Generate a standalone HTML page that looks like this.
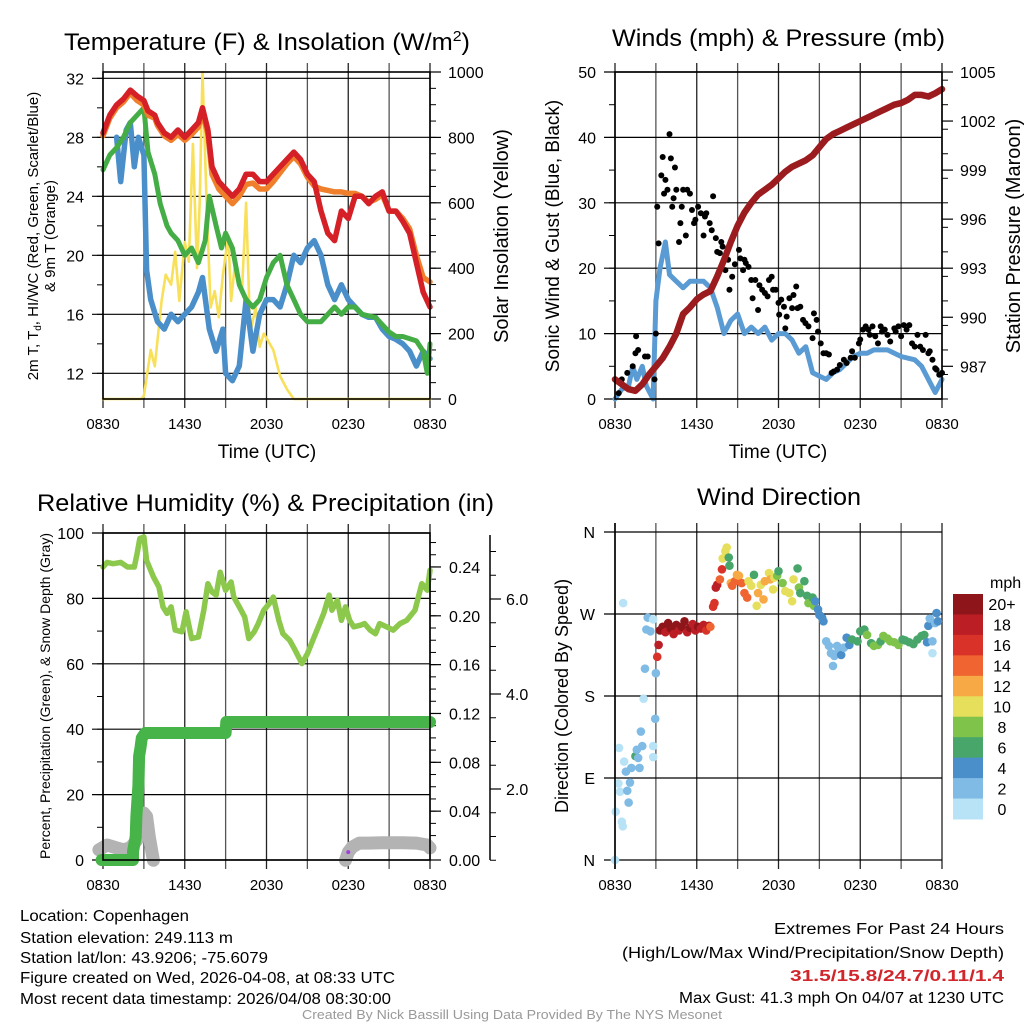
<!DOCTYPE html>
<html><head><meta charset="utf-8"><style>
html,body{margin:0;padding:0;background:#fff;}
svg{display:block;font-family:"Liberation Sans",Arial,sans-serif;}
</style></head><body>
<svg id="fig" width="1024" height="1024" viewBox="0 0 1024 1024" xmlns="http://www.w3.org/2000/svg">
<rect width="1024" height="1024" fill="#fff"/>
<g id="panels"></g>
<text x="64" y="50" font-size="24" textLength="406" lengthAdjust="spacingAndGlyphs">Temperature (F) &amp; Insolation (W/m<tspan dy="-9" font-size="15">2</tspan><tspan dy="9">)</tspan></text>
<text x="612" y="46" font-size="24" textLength="333" lengthAdjust="spacingAndGlyphs">Winds (mph) &amp; Pressure (mb)</text>
<text x="37" y="511" font-size="24" textLength="457" lengthAdjust="spacingAndGlyphs">Relative Humidity (%) &amp; Precipitation (in)</text>
<text x="697" y="505" font-size="24" textLength="164" lengthAdjust="spacingAndGlyphs">Wind Direction</text>
<g font-size="15.5">
<text x="20" y="921" textLength="169" lengthAdjust="spacingAndGlyphs">Location: Copenhagen</text>
<text x="20" y="943" textLength="213" lengthAdjust="spacingAndGlyphs">Station elevation: 249.113 m</text>
<text x="20" y="963" textLength="248" lengthAdjust="spacingAndGlyphs">Station lat/lon: 43.9206; -75.6079</text>
<text x="20" y="983" textLength="375" lengthAdjust="spacingAndGlyphs">Figure created on Wed, 2026-04-08, at 08:33 UTC</text>
<text x="20" y="1004" textLength="371" lengthAdjust="spacingAndGlyphs">Most recent data timestamp: 2026/04/08 08:30:00</text>
<text x="774" y="934" textLength="230" lengthAdjust="spacingAndGlyphs">Extremes For Past 24 Hours</text>
<text x="622" y="958" textLength="382" lengthAdjust="spacingAndGlyphs">(High/Low/Max Wind/Precipitation/Snow Depth)</text>
<text x="790" y="981" font-weight="bold" fill="#d0262c" textLength="214" lengthAdjust="spacingAndGlyphs">31.5/15.8/24.7/0.11/1.4</text>
<text x="679" y="1003" textLength="325" lengthAdjust="spacingAndGlyphs">Max Gust: 41.3 mph On 04/07 at 1230 UTC</text>
</g>
<text x="302" y="1019" font-size="13" fill="#999" textLength="420" lengthAdjust="spacingAndGlyphs">Created By Nick Bassill Using Data Provided By The NYS Mesonet</text>
</svg>
<script>
// ---------- data ----------
const xTickLabels = ["0830","1430","2030","0230","0830"];
const tempTicks = [12,16,20,24,28,32];
const insTicks = [0,200,400,600,800,1000];
const windTicks = [0,10,20,30,40,50];
const presTicks = [987,990,993,996,999,1002,1005];
const rhTicks = [0,20,40,60,80,100];
const precipTicks = ["0.00","0.04","0.08","0.12","0.16","0.20","0.24"];
const snowTicks = ["2.0","4.0","6.0"];
const dirLabels = ["N","W","S","E","N"];
const speedBinLabels = ["20+","18","16","14","12","10","8","6","4","2","0"];
const speedBinColors = ["#8e1519","#bb1e25","#d93229","#ef6430","#f7a946","#e5df5b","#7fc34b","#48a66b","#4a8fc9","#7fbbe4","#b8e3f7"];

const tempTimes = [0,0.5,1,1.5,2,2.5,3,3.3,3.8,4,4.5,5,5.5,6,6.5,7,7.3,7.7,8,8.5,9,9.5,10,10.5,11,11.5,12,12.5,13,13.5,14,14.5,15,15.5,16,16.5,17,17.5,18,18.5,19,19.5,20,20.5,21,21.5,22,22.5,23,23.5,24];
const tempRed = [28.3,29.5,30.2,30.6,31.2,30.8,30.5,29.8,29.5,29,28.3,28,28.5,28,28.5,29,30,28.5,26,25,24.5,24,24.5,25.5,25.5,25,25,25.5,26,26.5,27,26.5,25.5,25,23,21.5,21,23,22.5,24,24,23.5,24,24.3,23,23,22.3,21.5,19.5,17.5,16.5];
const tempOrange = [28.1,29.3,30,30.4,31,30.5,30.2,29.5,29.3,28.8,28.1,27.8,28.2,27.8,28.2,28.7,29.7,28.2,25.5,24.5,24,23.5,24,24.8,24.9,24.5,24.5,25,25.6,26.2,26.7,26.2,25.3,24.7,24.5,24.4,24.3,24.3,24.2,24.2,24,23.6,23.8,24.1,23,23,22.5,21.8,20,18.5,18.2];
const tdTimes = [0,0.5,1,1.5,2,2.5,3,3.3,3.8,4.2,4.7,5,5.5,6,6.5,7,7.5,7.8,8.3,8.7,9,9.5,10,10.5,11,11.5,12,12.5,13,13.5,14,14.5,15,15.5,16,16.5,17,17.5,18,18.5,19,20,20.5,21,21.5,22,23,23.5,23.8,24];
const tdGreen = [25.8,26.8,27.3,28,29,29.5,30,27,25.5,23.5,22,21.5,21,20,20.5,19.5,21,24,22,20.5,21.5,20.5,18,17,16.5,17,18.5,19.5,20,18,17,16,15.5,15.5,15.5,16,16.5,16,16.5,16.5,16,15.8,15.3,14.8,14.5,14.5,14.2,13.5,12,14];
const hiTimes = [1,1.3,1.7,2,2.3,2.6,3,3.2,3.5,4,4.5,5,5.5,6,6.5,7,7.3,7.8,8.3,8.8,9,9.5,10,10.5,11,11.5,12,12.5,13,13.5,14,14.5,15,15.5,16,16.5,17,17.5,18,18.5,19,19.5,20,20.5,21,21.5,22,22.5,23,23.5,24];
const hiBlue = [28,25,28.5,29,26,28,26.8,19,17,15.5,15,16,15.5,16,16.5,17.5,18.5,15,13.5,15,12,11.5,12.5,17,13.5,16,17,17,16.5,18,20,19.5,20.5,21,20,18,17,18,17,16.5,16,15.8,15.8,15,14.5,14.3,14,13.5,12.5,13.5,13];
const insTimes = [0,2.8,3,3.5,3.8,4.3,4.6,5,5.3,5.6,6,6.3,6.6,6.9,7.1,7.3,7.6,7.9,8.2,8.5,8.8,9.2,9.4,9.7,10.2,10.5,10.8,11.2,11.5,11.8,12.5,13,13.5,14,24];
const insValues = [0,0,10,150,100,300,380,350,450,300,480,420,780,400,600,1000,600,280,330,250,380,500,300,420,330,600,200,280,160,200,150,70,30,0,0];

const windTimes = [0,0.5,1,1.3,1.6,2,2.3,2.8,3,3.3,3.7,4,4.5,5,5.5,6,6.5,7,7.5,8,8.5,9,9.5,10,10.5,11,11.5,12,12.5,13,13.5,14,14.5,15,15.5,16,16.5,17,17.5,18,18.5,19,19.5,20,21,22,22.5,23,23.5,24];
const windValues = [0,1.5,2,5,3,5,2,0,15,20,24,19,18,17,18,18,18,17,14,10,12,13,10,11,10,11,9,10,10,9,7,8,4,3.5,3,4,4.5,5.5,6.5,7,7,7.5,7.5,7.5,6.5,6,5,3,1,3];
const gustTimes = [0.27,0.5,0.9,1.3,1.5,1.55,1.7,2.2,2.4,2.9,3.0,3.1,3.2,3.4,3.5,3.6,3.7,3.85,4.0,4.1,4.2,4.3,4.4,4.5,4.7,4.8,4.9,5.0,5.2,5.3,5.5,5.65,5.8,5.9,6.1,6.3,6.5,6.6,6.7,6.95,7.1,7.2,7.4,7.5,7.7,7.8,7.9,8.1,8.3,8.4,8.6,8.8,9.1,9.2,9.4,9.5,9.6,9.8,10.0,10.1,10.3,10.5,10.6,10.8,11.0,11.2,11.3,11.5,11.6,11.8,12.0,12.05,12.2,12.4,12.5,12.6,12.8,13.0,13.1,13.3,13.4,13.6,13.8,13.98,14.2,14.5,14.6,14.8,14.9,15.1,15.3,15.5,15.7,15.9,16.05,16.3,16.5,16.8,17.0,17.3,17.4,17.6,17.9,18.0,18.2,18.4,18.6,18.7,18.9,19.1,19.3,19.5,19.6,19.8,20.0,20.2,20.5,20.6,20.8,21.0,21.2,21.4,21.6,21.8,22.0,22.2,22.4,22.6,22.8,23.0,23.1,23.3,23.5,23.6,23.8,24.0];
const gustValues = [0.9,3,4,5,7,9.6,7.5,6.5,6.5,3,10,29.4,23.8,34.2,37,31.4,33.5,32,40.5,36.8,29.4,30.7,35.4,32,24,26.9,29.4,32,25,32,31.4,28.9,26.9,27.4,29.4,28.4,25,27.9,28.4,26.9,25.8,31,24.6,22.5,22.3,24,23.3,19.7,21.3,16.7,18.7,20.6,22.8,21.5,19.7,21.3,20.8,20.2,18.2,15.4,18.2,13.6,17.4,16.7,16.2,15.7,18.2,18.7,16.7,16.7,14.7,12.9,15.2,14.1,10.8,12.6,15.4,13.9,15.9,17.2,13.9,14.1,12.1,11.6,11.1,9.3,13.1,12.1,10.3,8.5,7,7,6.8,4,4.2,4.5,5.2,6,5.5,6.3,7.3,6.3,8.5,9.1,10.6,11.1,10.6,9.8,11.1,9.6,8.5,11.1,10.3,10.6,9.8,8.8,10.8,10.3,11.1,9.6,11.3,10.6,11.3,8.5,8,9.8,8,7.5,9.8,7,7.3,6,4.7,4.5,3.7,4];
const presTimes = [0,0.5,1,1.5,2,2.5,3,3.5,4,4.5,5,5.5,6,6.5,7,7.5,8,8.5,9,9.5,10,10.5,11,11.5,12,12.5,13,13.5,14,14.5,15,15.5,16,16.5,17,17.5,18,18.5,19,19.5,20,20.5,21,21.5,22,22.5,23,23.5,24];
const presValues = [986.2,985.9,985.6,985.5,985.9,986.5,987.0,987.5,988.2,989.0,990.2,990.6,991.1,991.4,991.6,992.5,993.5,994.6,995.6,996.4,997.0,997.5,997.8,998.1,998.5,998.9,999.2,999.4,999.6,999.9,1000.4,1000.9,1001.2,1001.4,1001.6,1001.8,1002.0,1002.2,1002.4,1002.6,1002.8,1003.0,1003.1,1003.3,1003.6,1003.6,1003.5,1003.7,1003.95];

const rhTimes = [0,0.3,0.75,1.3,1.8,2.3,2.5,2.7,3,3.2,3.7,4.1,4.4,4.7,5,5.3,5.8,6.1,6.5,7.0,7.4,7.7,8.0,8.3,8.6,9.0,9.4,9.6,10.0,10.4,10.7,11.1,11.4,11.8,12.2,12.5,12.9,13.2,13.7,14.1,14.6,15.0,15.3,15.8,16.2,16.6,16.8,17.2,17.5,17.8,18.1,18.4,18.9,19.2,19.6,20.0,20.3,20.8,21.3,21.8,22.3,22.9,23.4,23.8,24];
const rhValues = [89.6,91,90.6,91,89.6,89.6,93.7,98.3,98.8,91.6,86.6,83.5,77.4,75.4,77.4,70.3,69.8,75.9,67.7,68.2,76.4,84.5,82,81,88,82.5,85,80.4,77.4,74.3,67.7,69.8,72.3,76.4,78.4,80.4,73.3,69.2,67.2,64.2,60.1,63.1,66.2,71.3,75.4,81,76.4,79.4,73.3,77.4,73.3,71.3,71.8,72.3,70.3,69.2,72.3,71.3,70.3,72.3,73.3,76.4,84.5,82.5,88.6];
const precipTimes = [-0.1,2.2,2.2,2.4,2.45,2.6,2.65,2.75,2.85,3.1,9.0,9.05,24];
const precipValues = [0,0,0.007,0.019,0.036,0.061,0.085,0.092,0.1,0.104,0.104,0.113,0.113];
const snowTimes = [-0.3,0.3,1,1.5,2,2.5,2.8,3.0,3.2,3.4,3.6,3.7,null,17.8,18.0,18.3,18.8,19.5,20.5,22,23,23.8,24];
const snowValues = [0.72,0.82,0.76,0.72,0.76,0.93,1.35,1.49,1.42,0.99,0.65,0.5,null,0.5,0.67,0.78,0.86,0.86,0.87,0.87,0.86,0.82,0.76];
const snowFlagTime = [18];
const snowFlagValue = [0.67];

const dirTimes = [0,0.05,0.25,0.37,0.5,0.57,0.3,0.6,0.67,0.8,0.9,1.0,1.1,1.2,1.5,1.6,1.7,1.8,1.9,2.0,2.1,2.2,2.3,2.4,2.6,2.8,2.8,2.8,2.95,3.0,3.1,3.2,3.3,3.5,3.7,3.9,4.1,4.3,4.5,4.7,4.9,5.1,5.3,5.5,5.7,5.9,6.1,6.3,6.5,6.7,6.9,7.0,7.2,7.3,7.4,7.5,7.7,7.85,7.9,8.1,8.2,8.35,8.4,8.5,8.6,8.8,8.95,9.1,9.3,9.5,9.7,9.8,10.0,10.2,10.4,10.5,10.7,10.9,11.0,11.3,11.4,11.6,11.7,11.9,12.0,12.3,12.5,12.8,13.0,13.1,13.4,13.5,13.6,13.9,14.1,14.2,14.5,14.6,14.7,14.9,15.0,15.2,15.3,15.5,15.7,15.85,16.0,16.1,16.3,16.4,16.6,16.8,17.0,17.2,17.4,17.8,18.0,18.3,18.5,18.8,19.0,19.3,19.5,19.7,20.0,20.2,20.5,20.8,21.1,21.3,21.6,21.9,22.2,22.5,22.7,22.9,23.0,23.1,23.3,23.3,23.5,23.6,23.7];
const dirValues = [0,53,84,75,42,37,123,282,108,97,76,63,85,101,114,121,112,101,141,125,177,210,253,266,251,264,125,113,155,205,223,236,252,256,250,260,254,248,258,252,256,262,250,255,259,252,256,254,258,252,257,256,278,282,299,302,308,319,331,339,343,332,323,304,301,306,313,312,304,293,288,306,301,313,279,293,302,286,306,315,308,297,310,312,317,304,295,293,284,308,320,299,293,306,290,282,288,279,284,275,269,266,262,240,235,227,213,224,235,229,225,233,244,236,242,240,251,253,247,238,235,236,240,246,243,240,239,236,242,241,239,237,242,246,247,239,257,265,227,240,260,271,262];
const dirSpeeds = [0,1,1,1,1,1,1,1,1,2,2,3,2,2,6,3,3,2,2,2,1,2,3,3,2,1,1,1,2,2,16,18,20,20,18,20,20,18,20,18,20,20,18,20,18,18,20,18,18,16,18,14,16,16,18,18,14,16,10,10,10,6,6,12,14,14,12,12,14,14,14,10,10,6,10,12,10,12,12,10,12,10,10,8,6,8,10,10,10,10,6,8,6,6,6,8,6,8,4,4,4,4,4,2,2,2,2,2,2,2,4,2,4,4,6,6,6,6,8,6,8,8,6,8,8,8,8,8,6,6,6,6,6,6,6,4,4,2,1,2,2,4,4];

// ---------- helpers ----------
const NS = "http://www.w3.org/2000/svg";
const root = document.getElementById("panels");
function mk(tag, attrs, parent) {
  const e = document.createElementNS(NS, tag);
  for (const k in attrs) e.setAttribute(k, attrs[k]);
  (parent || root).appendChild(e);
  return e;
}
function txt(x, y, s, size, anchor, parent, extra) {
  const e = mk("text", Object.assign({x: x, y: y, "font-size": size, "text-anchor": anchor || "start"}, extra || {}), parent);
  e.textContent = s;
  return e;
}
function pathFrom(xs, ys, fx, fy) {
  let d = "", pen = false;
  for (let i = 0; i < xs.length; i++) {
    if (xs[i] === null || ys[i] === null) { pen = false; continue; }
    d += (pen ? "L" : "M") + fx(xs[i]).toFixed(1) + "," + fy(ys[i]).toFixed(1);
    pen = true;
  }
  return d;
}

function framePanel(name) {
  const g = mk("g", {});
  
  
  return g;
}
const L = [103, 615], R = [430, 942];
function X(t, p) { return L[p] + t * (R[p] - L[p]) / 24; }

function vgrid(g, p, T, B) {
  for (let i = 0; i <= 8; i++) {
    const x = X(i * 3, p);
    const l = mk("line", {x1: x, x2: x, y1: T - 9, y2: B + 9, stroke: i % 2 ? "#555" : "#222", "stroke-width": 1.3}, g);
    
    
  }
  for (let i = 0; i < xTickLabels.length; i++) {
    const t = txt(X(i * 6, p), B + 30, xTickLabels[i], 15, "middle", g);
    
    
  }
}
function hgridLeft(g, p, ticks, fy, minorStep, lo, hi) {
  for (let v = lo; v <= hi + 1e-9; v += minorStep) {
    mk("line", {x1: L[p] - 6, x2: L[p], y1: fy(v), y2: fy(v), stroke: "#000", "stroke-width": 1}, g);
  }
  ticks.forEach(v => {
    const y = fy(v);
    const gl = mk("line", {x1: L[p] - 11, x2: R[p], y1: y, y2: y, stroke: "#000", "stroke-width": 1.2}, g);
    
    
    const t = txt(L[p] - 19, y + 6, String(v), 16, "end", g);
    
    
  });
}
function rightAxis(g, x, ticks, fy, minorVals, labels, lx) {
  minorVals.forEach(v => mk("line", {x1: x, x2: x + 6, y1: fy(v), y2: fy(v), stroke: "#000", "stroke-width": 1}, g));
  ticks.forEach((v, i) => {
    mk("line", {x1: x, x2: x + 11, y1: fy(v), y2: fy(v), stroke: "#000", "stroke-width": 1.2}, g);
    const t = txt(lx, fy(v) + 6, labels[i], 16, "start", g);
    
    
  });
}
function border(g, p, T, B) {
  const r = mk("rect", {x: L[p], y: T, width: R[p] - L[p], height: B - T, fill: "none", stroke: "#000", "stroke-width": 1.6}, g);
  
  
}
function series(g, d, color, w, name) {
  const e = mk("path", {d: d, fill: "none", stroke: color, "stroke-width": w, "stroke-linejoin": "round", "stroke-linecap": "round"}, g);
  
  
  return e;
}
function rotLabel(g, x, y, s, size, name) {
  const t = txt(0, 0, s, size, "middle", g, {transform: "translate(" + x + "," + y + ") rotate(-90)"});
  
  
  return t;
}
function range(a, b, s) { const r = []; for (let v = a; v <= b + 1e-9; v += s) r.push(v); return r; }

// ---------- panel 1: temperature ----------
{
  const T = 72, B = 399;
  const fy = v => B - (v - 10.26) * 14.75;
  const fi = v => B - v * 0.327;
  const fx = t => X(t, 0);
  const g = framePanel("temperature-panel");
  vgrid(g, 0, T, B);
  hgridLeft(g, 0, tempTicks, fy, 2, 12, 32);
  rightAxis(g, R[0], insTicks, fi, range(0, 1000, 50), insTicks.map(String), 448);
  series(g, pathFrom(insTimes, insValues, fx, fi), "#f8e05a", 2.6, "insolation-line");
  series(g, pathFrom(hiTimes, hiBlue, fx, fy), "#4a8fc9", 5.5, "heat-index-wind-chill-line");
  series(g, pathFrom(tdTimes, tdGreen, fx, fy), "#45ad45", 5, "dewpoint-line");
  series(g, pathFrom(tempTimes, tempOrange, fx, fy), "#f07f2c", 5.5, "9m-temperature-line");
  series(g, pathFrom(tempTimes, tempRed, fx, fy), "#d42026", 5.5, "2m-temperature-line");
  border(g, 0, T, B);
  const yl = txt(0, 0, "", 15, "middle", g, {transform: "translate(42,236) rotate(-90)"});
  yl.innerHTML = '<tspan x="0" dy="-4">2m T, T<tspan font-size="10" dy="3">d</tspan><tspan dy="-3">, HI/WC (Red, Green, Scarlet/Blue)</tspan></tspan><tspan x="0" dy="17">&amp; 9m T (Orange)</tspan>';
  
  
  rotLabel(g, 508, 236, "Solar Insolation (Yellow)", 20, "insolation-y-axis-title");
  const xt = txt(267, 458, "Time (UTC)", 19, "middle", g);
  
  
}

// ---------- panel 2: winds ----------
{
  const T = 72, B = 399;
  const fy = v => B - v * 6.54;
  const fp = p => B - (p - 985) * 16.35;
  const fx = t => X(t, 1);
  const g = framePanel("winds-panel");
  vgrid(g, 1, T, B);
  hgridLeft(g, 1, windTicks, fy, 5, 0, 50);
  rightAxis(g, R[1], presTicks, fp, range(985, 1005, 1.5), presTicks.map(String), 960);
  series(g, pathFrom(windTimes, windValues, fx, fy), "#5a9bd3", 5, "sustained-wind-line");
  const gd = mk("g", {}, g);
  
  
  for (let i = 0; i < gustTimes.length; i++) {
    const c = mk("circle", {cx: fx(gustTimes[i]), cy: fy(gustValues[i]), r: 3, fill: "#000"}, gd);
    
    
  }
  series(g, pathFrom(presTimes, presValues, fx, fp), "#9b1b1e", 6.5, "pressure-line");
  border(g, 1, T, B);
  rotLabel(g, 559, 236, "Sonic Wind & Gust (Blue, Black)", 19, "wind-y-axis-title");
  rotLabel(g, 1020, 236, "Station Pressure (Maroon)", 20, "pressure-y-axis-title");
  const xt = txt(778, 458, "Time (UTC)", 19, "middle", g);
  
  
}

// ---------- panel 3: RH / precip ----------
{
  const T = 533, B = 860;
  const fy = v => B - v * 3.27;
  const fpr = v => B - v * 1221;
  const fs = v => 884 - v * 47.5;
  const fx = t => X(t, 0);
  const g = framePanel("humidity-panel");
  vgrid(g, 0, T, B);
  hgridLeft(g, 0, rhTicks, fy, 10, 0, 100);
  rightAxis(g, R[0], precipTicks.map(Number), fpr, range(0, 0.265, 0.01), precipTicks, 449);
  mk("line", {x1: 490, x2: 490, y1: 535, y2: 860, stroke: "#000", "stroke-width": 1.5}, g);
  rightAxis(g, 490, snowTicks.map(Number), fs, range(0.5, 7.4, 0.5), snowTicks, 506);
  series(g, pathFrom(snowTimes, snowValues, fx, fs), "#b3b3b3", 13, "snow-depth-line");
  series(g, pathFrom(rhTimes, rhValues, fx, fy), "#8cc84b", 5.5, "relative-humidity-line");
  series(g, pathFrom(precipTimes, precipValues, fx, fpr), "#46b448", 12, "precipitation-line");
  for (let i = 0; i < snowFlagTime.length; i++) {
    const c = mk("circle", {cx: fx(snowFlagTime[i]), cy: fs(snowFlagValue[i]), r: 2, fill: "#a040e0"}, g);
    
    
  }
  border(g, 0, T, B);
  rotLabel(g, 50, 696, "Percent, Precipitation (Green), & Snow Depth (Gray)", 14, "humidity-y-axis-title");
}

// ---------- panel 4: wind direction ----------
{
  const T = 532, B = 860;
  const fy = d => B - d * (B - T) / 360;
  const fx = t => X(t, 1);
  const g = framePanel("direction-panel");
  vgrid(g, 1, T, B);
  dirLabels.forEach((s, i) => {
    const y = fy((4 - i) * 90);
    mk("line", {x1: L[1] - 11, x2: R[1], y1: y, y2: y, stroke: "#000", "stroke-width": 1.2}, g);
    const t = txt(L[1] - 20, y + 6, s, 16, "end", g);
    
    
  });
  const gd = mk("g", {}, g);
  
  
  for (let i = 0; i < dirTimes.length; i++) {
    const bin = Math.min(10, Math.floor(dirSpeeds[i] / 2));
    const c = mk("circle", {cx: fx(dirTimes[i]), cy: fy(dirValues[i]), r: 4.3, fill: speedBinColors[10 - bin]}, gd);
    
    
  }
  mk("line", {x1: L[1], x2: L[1], y1: T - 9, y2: B + 9, stroke: "#000", "stroke-width": 1.6}, g);
  rotLabel(g, 568, 696, "Direction (Colored By Speed)", 18, "direction-y-axis-title");
  const cb = mk("g", {}, g);
  
  
  const bh = 225 / speedBinColors.length;
  speedBinColors.forEach((c, i) => {
    const r = mk("rect", {x: 953, y: 594 + i * bh, width: 30, height: bh + 0.5, fill: c}, cb);
    
    
    const t = txt(1002, 594 + i * bh + bh / 2 + 6, speedBinLabels[i], 16, "middle", cb);
    
    
  });
  const u = txt(990, 588, "mph", 16, "start", cb);
  
  
}
</script>
</body></html>
